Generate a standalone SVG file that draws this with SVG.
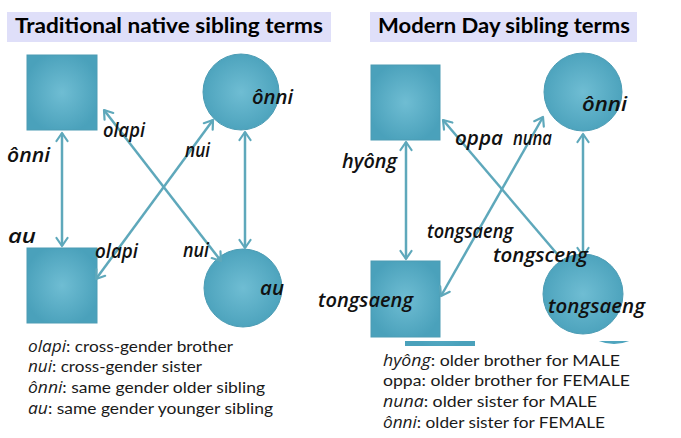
<svg xmlns="http://www.w3.org/2000/svg" width="681" height="438" viewBox="0 0 681 438">
<defs>
<radialGradient id="g" cx="50%" cy="50%" r="55%">
<stop offset="0" stop-color="#6fbdd3"/>
<stop offset="1" stop-color="#4aa1bb"/>
</radialGradient>
<marker id="ah" viewBox="-10 -7 12 14" refX="0" refY="0" markerWidth="12" markerHeight="14" markerUnits="userSpaceOnUse" orient="auto-start-reverse">
<path d="M-8,-5.5 L0,0 L-8,5.5" fill="none" stroke="#5ea8bb" stroke-width="2.2" stroke-linecap="round" stroke-linejoin="round"/>
</marker>
<clipPath id="cl"><rect x="380" y="341" width="300" height="5"/></clipPath>
</defs>
<style>
.node{fill:url(#g);stroke:#4c9cb4;stroke-width:1}
.con{stroke:#5ea8bb;stroke-width:2.5;fill:none}
.lab{font-family:"Open Sans","Liberation Sans",sans-serif;font-style:italic;font-weight:600;font-size:20px;fill:#111}
.title{font-family:Lato,"Liberation Sans",sans-serif;font-weight:bold;font-size:20px;fill:#000}
.leg{font-family:Lato,"Liberation Sans",sans-serif;font-size:16px;fill:#1a1a1a}
.it{font-family:"Open Sans","Liberation Sans",sans-serif;font-style:italic}
</style>
<rect width="681" height="438" fill="#fff"/>

<g id="title-left">
<rect x="7" y="12" width="324" height="30" fill="#dfdff9"/>
<text class="title" x="15" y="33" textLength="308" lengthAdjust="spacingAndGlyphs">Traditional native sibling terms</text>
</g>
<g id="title-right">
<rect x="370" y="12" width="267" height="30" fill="#dfdff9"/>
<text class="title" x="378" y="33" textLength="252" lengthAdjust="spacingAndGlyphs">Modern Day sibling terms</text>
</g>

<g clip-path="url(#cl)">
<rect x="405" y="270" width="70" height="76" fill="url(#g)"/>
<circle cx="614" cy="304" r="40" fill="url(#g)"/>
</g>

<g id="l-male-older"><rect class="node" x="27" y="55" width="70" height="75"/></g>
<g id="l-female-older"><circle class="node" cx="241" cy="92" r="38"/></g>
<g id="l-male-younger"><rect class="node" x="27" y="248" width="70" height="75"/></g>
<g id="l-female-younger"><circle class="node" cx="243" cy="288" r="39"/></g>

<g id="r-male-older"><rect class="node" x="371" y="65" width="69" height="75"/></g>
<g id="r-female-older"><circle class="node" cx="583" cy="92" r="39"/></g>
<g id="r-male-younger"><rect class="node" x="371" y="261" width="69" height="76"/></g>
<g id="r-female-younger"><circle class="node" cx="583" cy="294" r="40"/></g>

<g id="connectors">
<line class="con" x1="62" y1="133" x2="62" y2="246" marker-start="url(#ah)" marker-end="url(#ah)"/>
<line class="con" x1="245" y1="132" x2="245" y2="248" marker-start="url(#ah)" marker-end="url(#ah)"/>
<line class="con" x1="104" y1="110" x2="221" y2="261" marker-start="url(#ah)" marker-end="url(#ah)"/>
<line class="con" x1="213" y1="120" x2="96" y2="279" marker-start="url(#ah)" marker-end="url(#ah)"/>

<line class="con" x1="406" y1="142" x2="406" y2="259" marker-start="url(#ah)" marker-end="url(#ah)"/>
<line class="con" x1="583" y1="134" x2="583" y2="256" marker-start="url(#ah)" marker-end="url(#ah)"/>
<line class="con" x1="443" y1="120" x2="558" y2="255" marker-start="url(#ah)"/>
<line class="con" x1="543" y1="117" x2="441" y2="296" marker-start="url(#ah)" marker-end="url(#ah)"/>
</g>

<g id="labels">
<text class="lab" x="7" y="162" textLength="43" lengthAdjust="spacingAndGlyphs">ônni</text>
<text class="lab" x="103" y="137" textLength="42" lengthAdjust="spacingAndGlyphs">olapi</text>
<text class="lab" x="185" y="157" textLength="25" lengthAdjust="spacingAndGlyphs">nui</text>
<text class="lab" x="252" y="104" textLength="41" lengthAdjust="spacingAndGlyphs">ônni</text>
<text class="lab" x="8" y="243" textLength="28" lengthAdjust="spacingAndGlyphs">au</text>
<text class="lab" x="95" y="258" textLength="43" lengthAdjust="spacingAndGlyphs">olapi</text>
<text class="lab" x="183" y="257" textLength="26" lengthAdjust="spacingAndGlyphs">nui</text>
<text class="lab" x="260" y="295" textLength="24" lengthAdjust="spacingAndGlyphs">au</text>

<text class="lab" x="342" y="168" textLength="55" lengthAdjust="spacingAndGlyphs">hyông</text>
<text class="lab" x="455" y="145" textLength="48" lengthAdjust="spacingAndGlyphs">oppa</text>
<text class="lab" x="513" y="145" textLength="39" lengthAdjust="spacingAndGlyphs">nuna</text>
<text class="lab" x="582" y="111" textLength="45" lengthAdjust="spacingAndGlyphs">ônni</text>
<text class="lab" x="427" y="238" textLength="86" lengthAdjust="spacingAndGlyphs">tongsaeng</text>
<text class="lab" x="493" y="262" textLength="95" lengthAdjust="spacingAndGlyphs">tongsceng</text>
<text class="lab" x="318" y="307" textLength="95" lengthAdjust="spacingAndGlyphs">tongsaeng</text>
<text class="lab" x="548" y="313" textLength="97" lengthAdjust="spacingAndGlyphs">tongsaeng</text>
</g>

<g id="legend-left">
<text class="leg" x="28" y="352" textLength="205" lengthAdjust="spacingAndGlyphs"><tspan class="it">olapi</tspan>: cross-gender brother</text>
<text class="leg" x="28" y="372" textLength="174" lengthAdjust="spacingAndGlyphs"><tspan class="it">nui</tspan>: cross-gender sister</text>
<text class="leg" x="28" y="393" textLength="237" lengthAdjust="spacingAndGlyphs"><tspan class="it">ônni</tspan>: same gender older sibling</text>
<text class="leg" x="28" y="414" textLength="245" lengthAdjust="spacingAndGlyphs"><tspan class="it">au</tspan>: same gender younger sibling</text>
</g>
<g id="legend-right">
<text class="leg" x="383" y="366" textLength="237" lengthAdjust="spacingAndGlyphs"><tspan class="it">hyông</tspan>: older brother for MALE</text>
<text class="leg" x="383" y="386" textLength="247" lengthAdjust="spacingAndGlyphs">oppa: older brother for FEMALE</text>
<text class="leg" x="383" y="407" textLength="214" lengthAdjust="spacingAndGlyphs"><tspan class="it">nuna</tspan>: older sister for MALE</text>
<text class="leg" x="383" y="428" textLength="222" lengthAdjust="spacingAndGlyphs"><tspan class="it">ônni</tspan>: older sister for FEMALE</text>
</g>
</svg>
